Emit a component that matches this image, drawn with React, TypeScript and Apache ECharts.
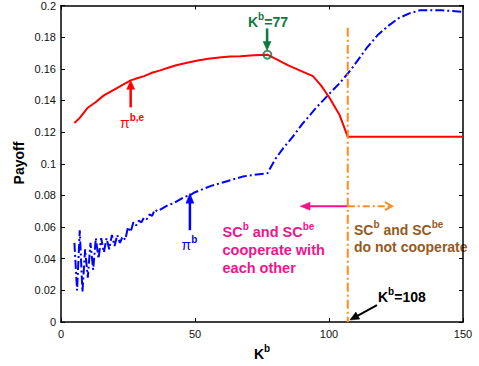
import React, { useEffect, useRef } from "react";
import * as echarts from "echarts";

// Red curve: pi^{b,e}
const redK = [5, 7, 10, 13, 16, 20, 23, 26, 29, 31, 34, 37, 40, 43, 47, 51, 55, 59, 63, 67, 72, 77, 85, 94, 97, 100, 104, 107, 150];
const redPayoff = [0.1257, 0.129, 0.1354, 0.139, 0.1432, 0.147, 0.1498, 0.1527, 0.1543, 0.1554, 0.1575, 0.159, 0.1607, 0.1622, 0.1638, 0.1652, 0.1663, 0.1672, 0.1677, 0.168, 0.1685, 0.1689, 0.162, 0.1554, 0.1495, 0.1422, 0.1306, 0.117, 0.117];

// Blue curve: pi^b
const blueK = [5, 6, 7, 8, 9, 10, 11, 12, 13, 14, 15, 16, 17, 18, 19, 20, 21, 22, 23, 24, 25, 26, 27, 28, 29, 30, 31, 32, 33, 34, 35, 36, 38, 40, 42, 44, 46, 48, 50, 53, 56, 60, 64, 68, 72, 77, 80, 83, 86, 90, 95, 100, 104, 108, 111, 114, 118, 122, 126, 130, 134, 138, 142, 146, 150];
const bluePayoff = [0.05, 0.02, 0.058, 0.019, 0.046, 0.028, 0.05, 0.033, 0.053, 0.04, 0.053, 0.044, 0.053, 0.046, 0.055, 0.048, 0.055, 0.05, 0.054, 0.052, 0.06, 0.057, 0.063, 0.061, 0.064, 0.063, 0.066, 0.065, 0.068, 0.067, 0.071, 0.07, 0.072, 0.074, 0.075, 0.077, 0.079, 0.08, 0.082, 0.084, 0.086, 0.088, 0.09, 0.092, 0.093, 0.094, 0.103, 0.11, 0.116, 0.125, 0.135, 0.144, 0.151, 0.159, 0.166, 0.173, 0.181, 0.187, 0.192, 0.195, 0.197, 0.197, 0.197, 0.1965, 0.196];

const thresholdK = 107;
const thresholdTop = 0.186;
const optimalK = 77;
const optimalPayoff = 0.1689;

const xMin = 0, xMax = 150, xStep = 50;
const yMin = 0, yMax = 0.2, yStep = 0.02;

// annotation arrows in data coordinates: [tail, head]
const redArrow = [[26, 0.1356], [26, 0.1527]];
const blueArrow = [[48.1, 0.058], [48.1, 0.0814]];
const greenArrow = [[76.9, 0.1855], [76.9, 0.1716]];
const pinkArrow = [[107, 0.0732], [89.2, 0.0732]];
const orangeArrow = [[107, 0.0732], [123.5, 0.0732]];
const blackArrow = [[117.9, 0.0107], [107.8, 0.0013]];

const FONT = "'Liberation Sans', Arial, sans-serif";

function supRich(color: string, base: number, sup: number, lh: number, baseBold = true) {
  return {
    b: { fontSize: base, fontWeight: baseBold ? "bold" : "normal", fontFamily: FONT, fill: color, color, lineHeight: lh, verticalAlign: "bottom" },
    n: { fontSize: base, fontWeight: "normal", fontFamily: FONT, fill: color, color, lineHeight: lh, verticalAlign: "bottom" },
    s: { fontSize: sup, fontWeight: "bold", fontFamily: FONT, fill: color, color, lineHeight: 8, verticalAlign: "top" },
  };
}

function arrow(tail: number[], head: number[], color: string, o: { lw?: number; hl?: number; hw?: number; dash?: number[]; open?: boolean } = {}) {
  const [x0, y0] = tail;
  const [x1, y1] = head;
  const dx = x1 - x0, dy = y1 - y0;
  const len = Math.hypot(dx, dy);
  const ux = dx / len, uy = dy / len;
  const hl = o.hl ?? 9, hw = o.hw ?? 4;
  const lw = o.lw ?? 2;
  const bx = x1 - ux * hl, by = y1 - uy * hl;
  const px = -uy, py = ux;
  const left = [bx + px * hw, by + py * hw];
  const right = [bx - px * hw, by - py * hw];
  const els: any[] = [];
  els.push({
    type: "line",
    silent: true,
    shape: { x1: x0, y1: y0, x2: o.open ? x1 : bx + ux * 1, y2: o.open ? y1 : by + uy * 1 },
    style: { stroke: color, lineWidth: lw, lineDash: o.dash || null },
  });
  if (o.open) {
    els.push({ type: "polyline", silent: true, shape: { points: [left, [x1, y1], right] }, style: { stroke: color, lineWidth: lw, fill: "none" } });
  } else {
    els.push({ type: "polygon", silent: true, shape: { points: [left, [x1, y1], right] }, style: { fill: color, stroke: color, lineWidth: 0.5 } });
  }
  return els;
}

export default function App() {
  const ref = useRef<HTMLDivElement>(null);
  useEffect(() => {
    if (!ref.current) return;
    const chart = echarts.init(ref.current, null, { renderer: "svg" });
    const axisCommon = {
      type: "value" as const,
      splitLine: { show: false },
      axisLine: { show: true, onZero: false, lineStyle: { color: "#000", width: 1.5 } },
      axisTick: { show: true, inside: true, length: 4, lineStyle: { color: "#000", width: 1 } },
    };
    const labelStyle = { color: "#111", fontSize: 11, fontFamily: FONT };
    chart.setOption({
      animation: false,
      backgroundColor: "#fff",
      grid: { left: 61, right: 16, top: 5, bottom: 44, containLabel: false },
      xAxis: [
        { ...axisCommon, min: xMin, max: xMax, interval: xStep, position: "bottom", axisLabel: { ...labelStyle, margin: 6 } },
        { ...axisCommon, min: xMin, max: xMax, interval: xStep, position: "top", axisLabel: { show: false } },
      ],
      yAxis: [
        {
          ...axisCommon, min: yMin, max: yMax, interval: yStep, position: "left",
          axisLabel: { ...labelStyle, margin: 5, formatter: (v: number) => String(+v.toFixed(2)) },
        },
        { ...axisCommon, min: yMin, max: yMax, interval: yStep, position: "right", axisLabel: { show: false } },
      ],
      series: [
        {
          type: "line",
          data: blueK.map((k, i) => [k, bluePayoff[i]]),
          showSymbol: false,
          lineStyle: { color: "#0000ff", width: 2, type: [9, 3, 2, 3] },
          z: 2,
        },
        {
          type: "line",
          data: redK.map((k, i) => [k, redPayoff[i]]),
          showSymbol: false,
          lineStyle: { color: "#ff0000", width: 2 },
          z: 3,
        },
        {
          type: "line",
          data: [[thresholdK, thresholdTop], [thresholdK, 0]],
          showSymbol: false,
          lineStyle: { color: "#ff8c1a", width: 2, type: [9, 3, 2, 3] },
          z: 4,
        },
        {
          type: "scatter",
          data: [[optimalK, optimalPayoff]],
          symbol: "circle",
          symbolSize: 8,
          itemStyle: { color: "rgba(0,0,0,0)", borderColor: "#0b7a3e", borderWidth: 2 },
          z: 5,
        },
      ],
    });

    const P = (p: number[]) => chart.convertToPixel({ gridIndex: 0 }, p) as number[];
    const graphics: any[] = [
      ...arrow(P(redArrow[0]), P(redArrow[1]), "#ff0000", { lw: 2.5, hl: 9, hw: 4 }),
      ...arrow(P(blueArrow[0]), P(blueArrow[1]), "#0000ff", { lw: 2.5, hl: 10, hw: 4 }),
      ...arrow(P(greenArrow[0]), P(greenArrow[1]), "#0b7a3e", { lw: 2.5, hl: 9, hw: 4 }),
      ...arrow(P(pinkArrow[0]), P(pinkArrow[1]), "#f0148c", { lw: 2, hl: 10, hw: 4 }),
      ...arrow(P(orangeArrow[0]), P(orangeArrow[1]), "#ff8c1a", { lw: 2, hl: 7, hw: 4, dash: [7, 3, 2, 3], open: true }),
      ...arrow(P(blackArrow[0]), P(blackArrow[1]), "#000", { lw: 2, hl: 9, hw: 4 }),
      {
        type: "text", silent: true, x: 248, y: 11,
        style: { text: "{b|K}{s|b}{b|=77}", rich: supRich("#0b7a3e", 14, 10, 18), fill: "#0b7a3e", align: "left", verticalAlign: "top" },
      },
      {
        type: "text", silent: true, x: 120, y: 112,
        style: { text: "{n|π}{s|b,e}", rich: supRich("#ff0000", 14, 10, 18, false), fill: "#ff0000", align: "left", verticalAlign: "top" },
      },
      {
        type: "text", silent: true, x: 181.5, y: 234,
        style: { text: "{n|π}{s|b}", rich: supRich("#0000ff", 14, 10, 18, false), fill: "#0000ff", align: "left", verticalAlign: "top" },
      },
      {
        type: "text", silent: true, x: 222.5, y: 221,
        style: {
          text: "{b|SC}{s|b}{b| and SC}{s|be}\n{b|cooperate with}\n{b|each other}",
          rich: supRich("#f0148c", 14.5, 10, 18), fill: "#f0148c", align: "left", verticalAlign: "top",
        },
      },
      {
        type: "text", silent: true, x: 354, y: 219.5,
        style: {
          text: "{b|SC}{s|b}{b| and SC}{s|be}\n{b|do not cooperate}",
          rich: supRich("#965a1e", 14, 10, 17), fill: "#965a1e", align: "left", verticalAlign: "top",
        },
      },
      {
        type: "text", silent: true, x: 378, y: 286,
        style: { text: "{b|K}{s|b}{b|=108}", rich: supRich("#000", 14, 10, 18), fill: "#000", align: "left", verticalAlign: "top" },
      },
      {
        type: "text", silent: true, x: 254, y: 343,
        style: { text: "{b|K}{s|b}", rich: supRich("#000", 14, 10, 18), fill: "#000", align: "left", verticalAlign: "top" },
      },
      {
        type: "text", silent: true, x: 19, y: 163, rotation: Math.PI / 2,
        style: { text: "Payoff", fill: "#000", font: `bold 14px ${FONT}`, align: "center", verticalAlign: "middle" },
      },
    ];
    chart.setOption({ graphic: graphics });
    return () => chart.dispose();
  }, []);
  return <div ref={ref} style={{ position: "fixed", left: 0, top: 0, width: 479, height: 366 }} />;
}
